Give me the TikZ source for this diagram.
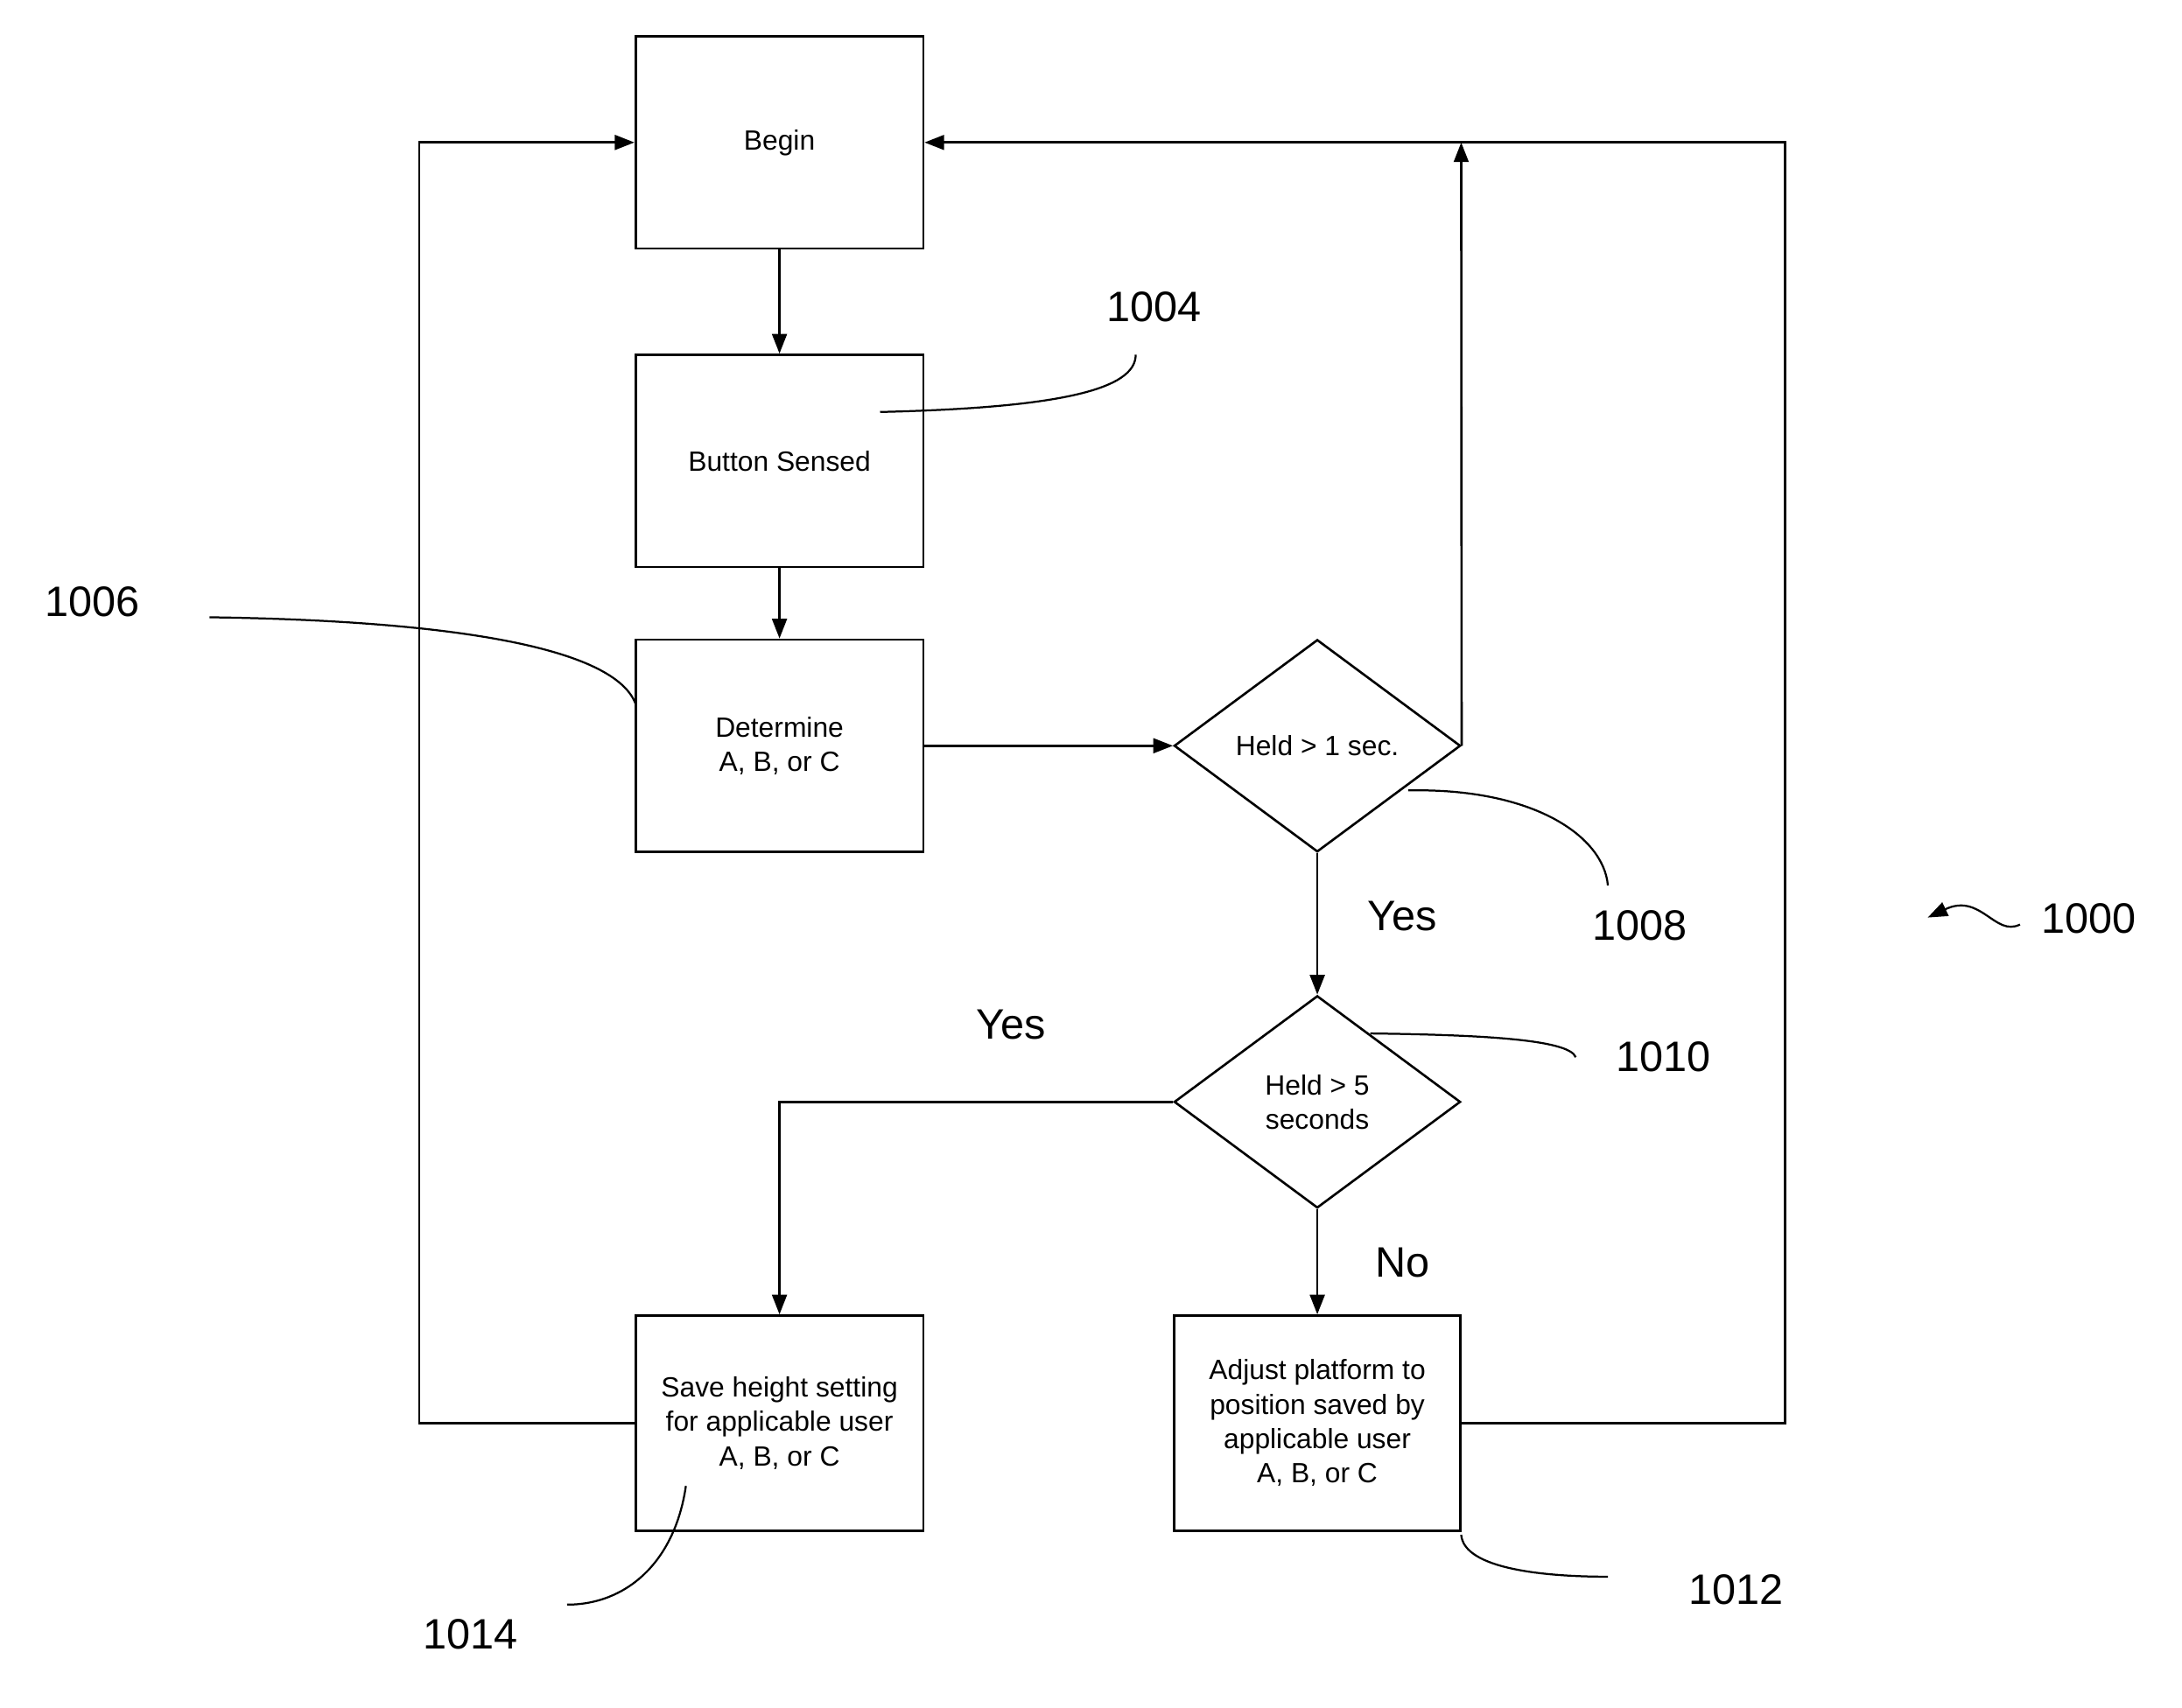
\documentclass[tikz,border=0pt]{standalone}
\usepackage{fontspec}
\setmainfont{Liberation Sans}
\usetikzlibrary{shapes.geometric,arrows.meta}
\begin{document}
\begin{tikzpicture}[x=0.03cm,y=-0.03cm,line width=1.4pt,
  box/.style={draw,minimum width=206*0.03cm,minimum height=152*0.03cm,align=center,font=\fontsize{17}{21}\selectfont,inner sep=0},
  dia/.style={draw,diamond,minimum width=205*0.03cm,minimum height=152*0.03cm,align=center,font=\fontsize{17}{21}\selectfont,inner sep=0},
  arr/.style={-{Triangle[length=12pt,width=9pt]}},
  lbl/.style={font=\fontsize{26}{30}\selectfont},
  lead/.style={line width=1.2pt}]
\useasboundingbox (0,0) rectangle (1562,1223);
\node[box] (begin) at (558,102) {Begin};
\node[box] (btn) at (558,330) {Button Sensed};
\node[box] (det) at (558,534) {Determine\\A, B, or C};
\node[dia,shape aspect=1.35] (d1) at (943,534) {Held > 1 sec.};
\node[dia,shape aspect=1.35] (d2) at (943,789) {Held > 5\\seconds};
\node[box,minimum height=154*0.03cm] (save) at (558,1019) {Save height setting\\for applicable user\\A, B, or C};
\node[box,minimum width=205*0.03cm,minimum height=154*0.03cm] (adj) at (943,1019) {Adjust platform to\\position saved by\\applicable user\\A, B, or C};
\coordinate (top) at (1046,102);
\draw[arr] (begin) -- (btn);
\draw[arr] (btn) -- (det);
\draw[arr] (det) -- (d1);
\draw[arr] (d1.east) -- (top);
\draw[arr] (adj.east) -- (1278,1019) -- (1278,102) -- (begin.east);
\draw[arr] (save.west) -- (300,1019) -- (300,102) -- (begin.west);
\draw[arr] (d1.south) -- (d2.north);
\draw[arr] (d2.west) -- (558,789) -- (save.north);
\draw[arr] (d2.south) -- (adj.north);
\node[lbl] (y1) at (1004,656) {Yes};
\node[lbl] (y2) at (724,734) {Yes};
\node[lbl] (n1) at (1004,904) {No};
\node[lbl] (l1004) at (826,220) {1004};
\node[lbl] (l1006) at (66,431) {1006};
\node[lbl] (l1008) at (1174,663) {1008};
\node[lbl] (l1010) at (1191,757) {1010};
\node[lbl] (l1012) at (1243,1138) {1012};
\node[lbl] (l1014) at (337,1170) {1014};
\node[lbl] (l1000) at (1495,658) {1000};
\draw[lead] (630,295) .. controls (758,292) and (813,279) .. (813,254);
\draw[lead] (150,442) .. controls (298,444) and (438,459) .. (455,504);
\draw[lead] (1008,566) .. controls (1098,564) and (1148,599) .. (1151,634);
\draw[lead] (981,740) .. controls (1058,741) and (1123,744) .. (1128,757);
\draw[lead] (1046,1099) .. controls (1048,1124) and (1108,1129) .. (1151,1129);
\draw[lead] (491,1064) .. controls (483,1119) and (448,1149) .. (406,1149);
\draw[lead,-{Triangle[length=12pt,width=9pt]}] (1446,662) .. controls (1428,671) and (1418,639) .. (1380,657);
\end{tikzpicture}
\end{document}
